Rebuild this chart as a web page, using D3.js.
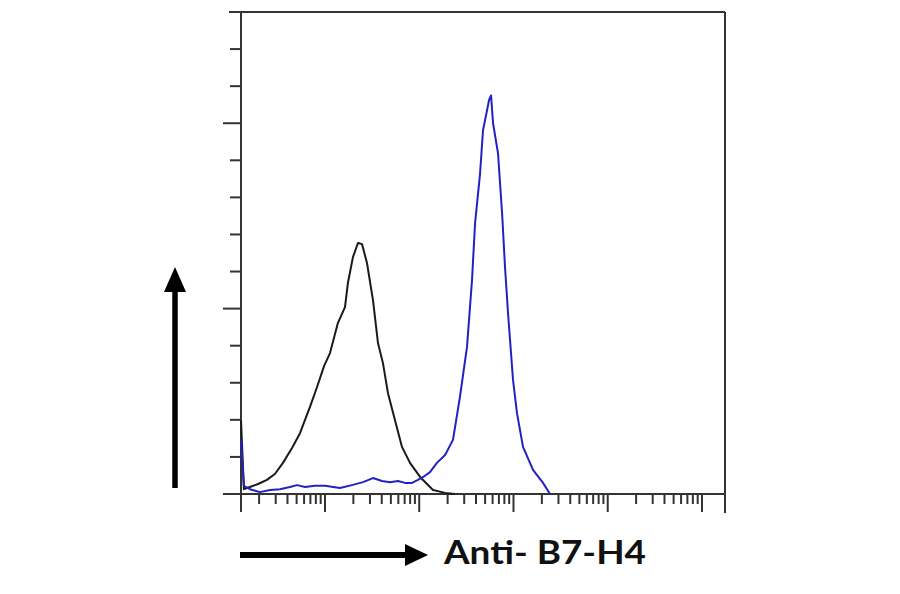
<!DOCTYPE html>
<html>
<head>
<meta charset="utf-8">
<script src="https://cdn.jsdelivr.net/npm/d3@7"></script>
<style>
  body { margin: 0; background: #fff; }
  svg { display: block; }
</style>
</head>
<body>
<svg id="chart" width="900" height="594"></svg>
<script>
// Isotype control (black) histogram: fluorescence intensity vs count
const isoFL = [1.285, 1.38, 1.60, 1.95, 2.42, 2.94, 3.58, 4.47, 5.43, 6.93, 8.22, 9.77, 11.3, 13.7, 16.3, 17.5, 19.8, 22.4, 24.7, 27.9, 32.3, 36.5, 41.2, 46.6, 55.3, 65.6, 79.8, 102, 140, 188, 239];
const isoCount = [19.9, 1.3, 1.9, 2.7, 3.8, 5.4, 8.4, 12.4, 16.4, 23.5, 28.8, 34.5, 38.0, 46.1, 50.4, 56.9, 63.9, 67.7, 67.4, 62.3, 52.3, 40.7, 35.3, 27.2, 19.9, 12.7, 8.4, 4.6, 1.1, 0.3, 0];

// Anti-B7-H4 stained (blue) histogram
const b7FL = [1.285, 1.38, 1.60, 2.04, 2.61, 3.33, 4.25, 5.05, 6.14, 7.83, 10, 14.4, 19.3, 25.3, 32.3, 40.3, 49.0, 59.6, 70.6, 83.8, 97.0, 110, 130, 154, 188, 228, 270, 321, 363, 391, 442, 475, 524, 550, 578, 607, 685, 757, 813, 875, 989, 1089, 1262, 1611, 2056, 2438];
const b7Count = [14.6, 2.2, 1.3, 0.5, 1.1, 1.3, 1.9, 2.4, 1.9, 2.2, 2.2, 1.6, 2.4, 3.2, 4.3, 3.5, 3.2, 3.5, 3.0, 3.0, 3.8, 4.6, 5.9, 8.4, 10.5, 14.6, 26.1, 39.6, 57.7, 73.0, 86.5, 98.1, 103.5, 106.2, 107.5, 100.0, 91.9, 75.7, 61.2, 48.8, 30.7, 21.8, 12.7, 6.5, 3.0, 0];

// Axis settings
const xDomain = [1.285, 175400];
const yDomain = [0, 130];
const yTickValues = d3.range(0, 131, 10);
const yMajorTicks = [0, 50, 100];
const xDecades = [1, 10, 100, 1000, 10000, 100000];
const xLabel = "Anti- B7-H4";

(function draw() {
const svg = d3.select("#chart");
const pLeft = 241, pRight = 725, pTop = 12, pBottom = 494;

const x = d3.scaleLog().domain(xDomain).range([pLeft, pRight]);
const y = d3.scaleLinear().domain(yDomain).range([pBottom, pTop]);

const axisColor = "#333";

// frame: top and right borders
svg.append("line").attr("x1", pLeft - 12).attr("x2", pRight).attr("y1", pTop).attr("y2", pTop)
  .attr("stroke", axisColor).attr("stroke-width", 2);
svg.append("line").attr("x1", pRight).attr("x2", pRight).attr("y1", pTop).attr("y2", pBottom + 19)
  .attr("stroke", axisColor).attr("stroke-width", 2);

// y axis line
svg.append("line").attr("x1", pLeft).attr("x2", pLeft).attr("y1", pTop).attr("y2", pBottom + 18)
  .attr("stroke", axisColor).attr("stroke-width", 2);
// y ticks
svg.append("g").selectAll("line").data(yTickValues).join("line")
  .attr("x1", d => yMajorTicks.includes(d) ? pLeft - 18 : pLeft - 11)
  .attr("x2", pLeft)
  .attr("y1", d => y(d)).attr("y2", d => y(d))
  .attr("stroke", axisColor).attr("stroke-width", 2);

// x axis line
svg.append("line").attr("x1", pLeft).attr("x2", pRight).attr("y1", pBottom).attr("y2", pBottom)
  .attr("stroke", axisColor).attr("stroke-width", 2);
// x ticks (log minor + decade majors)
const xTicks = [];
xDecades.forEach(dec => {
  for (let m = 1; m <= 9; m++) {
    const v = dec * m;
    if (v > xDomain[0] && v < xDomain[1]) xTicks.push({v, major: m === 1});
  }
});
svg.append("g").selectAll("line").data(xTicks).join("line")
  .attr("x1", d => x(d.v)).attr("x2", d => x(d.v))
  .attr("y1", pBottom)
  .attr("y2", d => d.major ? pBottom + 18 : pBottom + 10)
  .attr("stroke", axisColor).attr("stroke-width", 2);

// curves
const line = d3.line().x(d => x(d[0])).y(d => y(d[1]));
const isoData = isoFL.map((v, i) => [v, isoCount[i]]);
const b7Data = b7FL.map((v, i) => [v, b7Count[i]]);

svg.append("path").datum(isoData).attr("d", line)
  .attr("fill", "none").attr("stroke", "#1a1a1a").attr("stroke-width", 2)
  .attr("stroke-linejoin", "round");
svg.append("path").datum(b7Data).attr("d", line)
  .attr("fill", "none").attr("stroke", "#2222c4").attr("stroke-width", 2)
  .attr("stroke-linejoin", "round");

// vertical arrow (count)
svg.append("line").attr("x1", 175).attr("x2", 175).attr("y1", 488).attr("y2", 288)
  .attr("stroke", "#000").attr("stroke-width", 5.5);
svg.append("path").attr("d", "M175,267 L186,292 L164,292 Z").attr("fill", "#000");

// horizontal arrow (fluorescence)
svg.append("line").attr("x1", 240).attr("x2", 410).attr("y1", 555).attr("y2", 555)
  .attr("stroke", "#000").attr("stroke-width", 6);
svg.append("path").attr("d", "M428,555 L405,544 L405,566 Z").attr("fill", "#000");

svg.append("text").attr("x", 444).attr("y", 564)
  .attr("font-family", "Lato, 'Open Sans', sans-serif").attr("font-weight", "bold")
  .attr("font-size", 32).attr("fill", "#111")
  .attr("textLength", 202).attr("lengthAdjust", "spacingAndGlyphs")
  .text(xLabel);
})();
</script>
</body>
</html>
